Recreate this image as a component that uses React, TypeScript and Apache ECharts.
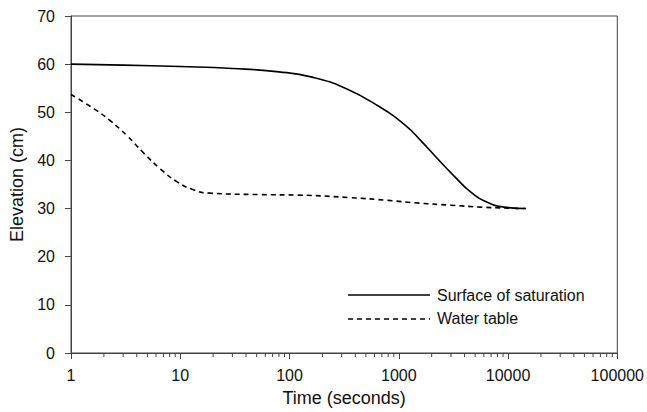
import React, { useEffect, useRef } from "react";
import * as echarts from "echarts";

// Time (seconds) and elevation (cm)
const saturationTime = [1, 3, 10, 30, 80, 161, 324, 650, 1150, 1607, 2277, 3228, 4570, 6460, 9180, 14500];
const saturationElev = [60.0, 59.8, 59.5, 59.1, 58.4, 57.3, 55.0, 51.3, 47.3, 44.0, 40.3, 36.7, 33.4, 31.3, 30.3, 30.0];

const waterTime = [1, 1.63, 2.3, 3.27, 4.6, 6.6, 9.3, 13.2, 18.6, 53, 120, 347, 800, 1400, 3000, 5600, 10000, 14500];
const waterElev = [53.7, 50.7, 48.2, 45.1, 41.6, 38.2, 35.6, 33.9, 33.2, 32.9, 32.8, 32.3, 31.7, 31.2, 30.7, 30.3, 30.1, 30.0];

const seriesNames = ["Surface of saturation", "Water table"];
const decades = [1, 10, 100, 1000, 10000];
const minorMultipliers = [2, 3, 4, 5, 6, 7, 8, 9];

const FONT = "'Liberation Sans', Arial, sans-serif";

export default function App() {
  const ref = useRef<HTMLDivElement>(null);

  useEffect(() => {
    if (!ref.current) return;
    const chart = echarts.init(ref.current, undefined, { renderer: "svg" });

    const minorTicks: number[][] = [];
    decades.forEach((d) => minorMultipliers.forEach((m) => minorTicks.push([d * m, 0])));

    const legendY = [295, 319];

    chart.setOption({
      animation: false,
      backgroundColor: "#ffffff",
      textStyle: { fontFamily: FONT },
      grid: {
        left: 70,
        right: 26,
        top: 16,
        bottom: 57,
        show: true,
        borderColor: "#444",
        borderWidth: 1,
        backgroundColor: "transparent",
      },
      graphic: [
        {
          type: "line",
          shape: { x1: 348, y1: legendY[0], x2: 430, y2: legendY[0] },
          style: { stroke: "#000", lineWidth: 1.6 },
        },
        {
          type: "text",
          x: 437,
          y: legendY[0],
          style: { text: seriesNames[0], fontSize: 16, fill: "#111", fontFamily: FONT, verticalAlign: "middle" },
        },
        {
          type: "line",
          shape: { x1: 348, y1: legendY[1], x2: 430, y2: legendY[1] },
          style: { stroke: "#000", lineWidth: 1.6, lineDash: [5, 4] },
        },
        {
          type: "text",
          x: 437,
          y: legendY[1] - 1,
          style: { text: seriesNames[1], fontSize: 16, fill: "#111", fontFamily: FONT, verticalAlign: "middle" },
        },
      ],
      xAxis: {
        type: "log",
        logBase: 10,
        min: 1,
        max: 100000,
        name: "Time (seconds)",
        nameLocation: "middle",
        nameGap: 36,
        nameTextStyle: { fontSize: 18, color: "#111", fontFamily: FONT },
        axisLine: { show: true, lineStyle: { color: "#444", width: 1 } },
        axisTick: { show: true, inside: false, length: 6, lineStyle: { color: "#444" } },
        axisLabel: {
          fontSize: 16,
          color: "#111",
          margin: 14,
          fontFamily: FONT,
          formatter: (v: number) => String(Math.round(v)),
        },
        splitLine: { show: false },
      },
      yAxis: {
        type: "value",
        min: 0,
        max: 70,
        interval: 10,
        name: "Elevation (cm)",
        nameLocation: "middle",
        nameGap: 45,
        nameTextStyle: { fontSize: 18, color: "#111", fontFamily: FONT },
        axisLine: { show: true, lineStyle: { color: "#444", width: 1 } },
        axisTick: { show: true, inside: false, length: 6, lineStyle: { color: "#444" } },
        axisLabel: { fontSize: 16, color: "#111", margin: 16, fontFamily: FONT },
        splitLine: { show: false },
      },
      series: [
        {
          name: seriesNames[0],
          type: "line",
          data: saturationTime.map((t, i) => [t, saturationElev[i]]),
          smooth: 0.5,
          symbol: "none",
          lineStyle: { color: "#000", width: 1.6, type: "solid" },
          itemStyle: { color: "#000" },
        },
        {
          name: seriesNames[1],
          type: "line",
          data: waterTime.map((t, i) => [t, waterElev[i]]),
          smooth: 0.5,
          symbol: "none",
          lineStyle: { color: "#000", width: 1.6, type: [5, 4] },
          itemStyle: { color: "#000" },
        },
        {
          name: "minorTicks",
          type: "custom",
          clip: false,
          silent: true,
          data: minorTicks,
          renderItem: (params: any, api: any) => {
            const p = api.coord([api.value(0), api.value(1)]);
            return {
              type: "line",
              shape: { x1: p[0], y1: p[1], x2: p[0], y2: p[1] + 4 },
              style: { stroke: "#444", lineWidth: 1 },
            };
          },
        },
      ],
    });

    return () => chart.dispose();
  }, []);

  return (
    <div
      ref={ref}
      style={{ position: "fixed", left: 0, top: 0, width: 647, height: 412, background: "#fff" }}
    />
  );
}
